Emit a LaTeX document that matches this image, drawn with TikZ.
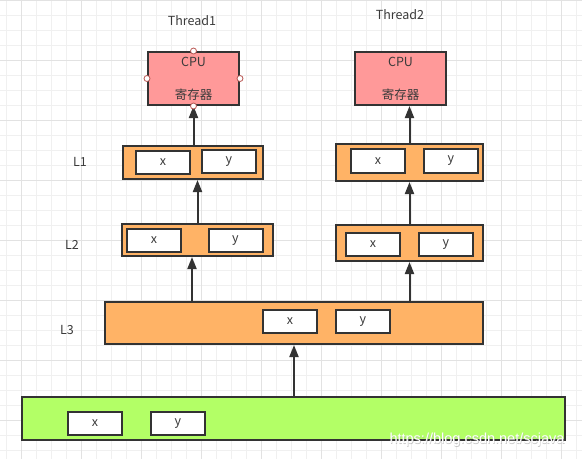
\documentclass[tikz,border=0pt]{standalone}
\usepackage{fontspec}
\setmainfont{Noto Sans CJK SC}
\newfontfamily\wmfont{Liberation Sans}
\usetikzlibrary{arrows.meta}
\definecolor{cpufill}{HTML}{FF9999}
\definecolor{cachefill}{HTML}{FFB366}
\definecolor{memfill}{HTML}{B3FF66}
\definecolor{edge}{HTML}{333333}
\definecolor{txt}{HTML}{3A3A3A}
\definecolor{gridminor}{HTML}{F0F0F0}
\definecolor{gridmajor}{HTML}{E2E2E2}
\definecolor{pin}{HTML}{B85450}
\tikzset{
  box/.style={draw=edge,line width=2pt,inner sep=0pt,anchor=center},
  cpubox/.style={box,fill=cpufill,minimum width=91pt,minimum height=53pt},
  cell/.style={box,fill=white,minimum width=54pt,minimum height=23pt,font=\fontsize{12.5}{14}\selectfont,text=txt},
  lbl/.style={font=\fontsize{12.5}{15}\selectfont,text=txt,inner sep=0pt},
  arr/.style={draw=edge,line width=2pt,-{Triangle[length=12pt,width=9pt]}},
  pinpt/.style={circle,draw=pin,fill=white,line width=0.8pt,minimum size=6pt,inner sep=0pt},
  wmark/.style={font=\wmfont\fontsize{14.5}{16}\selectfont,inner sep=0pt}
}
\begin{document}
\begin{tikzpicture}[x=1pt,y=-1pt]
\useasboundingbox (0,0) rectangle (582,459);
% grid
\foreach \i in {0,...,39} {
  \draw[gridminor,line width=0.8pt] (6.7+15*\i,0) -- (6.7+15*\i,459);
}
\foreach \j in {0,...,30} {
  \draw[gridminor,line width=0.8pt] (0,15*\j) -- (582,15*\j);
}
\foreach \i in {0,...,9} {
  \draw[gridmajor,line width=0.9pt] (21.7+60*\i,0) -- (21.7+60*\i,459);
}
\foreach \j in {0,...,7} {
  \draw[gridmajor,line width=0.9pt] (0,60*\j) -- (582,60*\j);
}

% titles and level labels
\node[lbl] (t1) at (192,21) {Thread1};
\node[lbl] (t2) at (400,15) {Thread2};
\node[lbl] (lab1) at (80,162) {L1};
\node[lbl] (lab2) at (72,245) {L2};
\node[lbl] (lab3) at (67,330) {L3};

% CPUs
\node[cpubox] (cpu1) at (193.5,78.5) {};
\node[lbl] (cpu1a) at (193.5,62) {CPU};
\node[lbl] (cpu1b) at (193.5,95) {寄存器};
\node[cpubox] (cpu2) at (400.5,78.5) {};
\node[lbl] (cpu2a) at (400.5,62) {CPU};
\node[lbl] (cpu2b) at (400.5,95) {寄存器};

% L1
\node[box,fill=cachefill,minimum width=140pt,minimum height=33pt] (l1a) at (193,162.5) {};
\node[cell] (l1ax) at (163,162.5) {x};
\node[cell] (l1ay) at (229,161.5) {y};
\node[box,fill=cachefill,minimum width=147pt,minimum height=37pt] (l1b) at (409.5,162.5) {};
\node[cell,minimum height=24pt] (l1bx) at (378,161) {x};
\node[cell,minimum height=24pt] (l1by) at (451,161) {y};

% L2
\node[box,fill=cachefill,minimum width=151pt,minimum height=32pt] (l2a) at (197.5,240) {};
\node[cell] (l2ax) at (154,240.5) {x};
\node[cell] (l2ay) at (235.5,240.5) {y};
\node[box,fill=cachefill,minimum width=147pt,minimum height=36pt] (l2b) at (409.5,243) {};
\node[cell] (l2bx) at (373,244.5) {x};
\node[cell] (l2by) at (446,244.5) {y};

% L3
\node[box,fill=cachefill,minimum width=378pt,minimum height=42pt] (l3) at (294,323) {};
\node[cell] (l3x) at (290,321.5) {x};
\node[cell] (l3y) at (363,321.5) {y};

% main memory
\node[box,fill=memfill,minimum width=543pt,minimum height=43pt] (mem) at (293.5,418.5) {};
\node[cell] (memx) at (95,423.5) {x};
\node[cell] (memy) at (178,423.5) {y};

% connectors
\draw[arr] (l1a.north -| cpu1.south) -- (cpu1.south);
\draw[arr] (l1b.north) -- (l1b.north |- cpu2.south);
\draw[arr] (l2a.north) -- (l2a.north |- l1a.south);
\draw[arr] (l2b.north) -- (l1b.south);
\draw[arr] (l3.north -| 192,0) -- (192,0 |- l2a.south);
\draw[arr] (l3.north -| l2b.north) -- (l2b.south);
\draw[arr] (mem.north -| l3.south) -- (l3.south);

% connection points on CPU1
\node[pinpt] (p1) at (cpu1.north) {};
\node[pinpt] (p2) at (cpu1.west) {};
\node[pinpt] (p3) at (cpu1.east) {};
\node[pinpt] (p4) at (cpu1.south) {};

% watermark (white text with a faint grey halo)
\node[wmark,text=black!30,opacity=0.7] (wmshadow) at (477.6,440.6) {https://blog.csdn.net/scjava};
\node[wmark,text=white] (wm) at (477,440) {https://blog.csdn.net/scjava};
\end{tikzpicture}
\end{document}
